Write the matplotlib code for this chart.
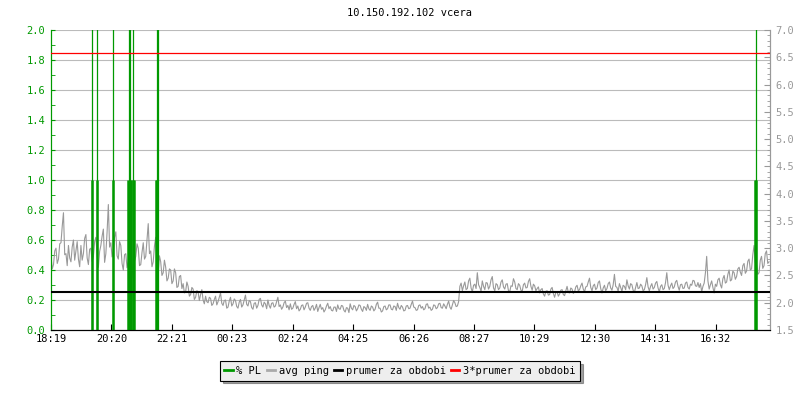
import numpy as np
import matplotlib
matplotlib.use("Agg")
import matplotlib.pyplot as plt
from matplotlib.lines import Line2D

# avg ping, vzorek kazde 2.5 minuty od 18:19 (prava osa)
ping = [
    2.85, 2.62, 2.70, 2.95, 3.00, 2.72, 2.80, 3.08, 3.10, 3.40, 3.65, 2.88,
    2.90, 2.68, 3.05, 2.82, 2.75, 3.02, 3.15, 2.78, 2.95, 3.12, 2.80, 2.66,
    3.05, 2.78, 2.90, 3.18, 3.25, 2.82, 2.70, 2.98, 3.00, 2.76, 2.85, 3.12,
    3.20, 2.88, 2.65, 2.94, 3.05, 3.22, 3.35, 2.74, 2.90, 3.30, 3.80, 3.02,
    3.10, 2.84, 2.95, 3.20, 3.30, 2.86, 2.80, 3.12, 3.05, 2.72, 2.60, 2.88,
    2.90, 2.64, 2.75, 3.02, 3.15, 2.70, 2.45, 2.76, 2.85, 3.08, 3.00, 2.68,
    2.70, 2.92, 3.10, 2.80, 2.85, 3.15, 3.45, 2.90, 2.95, 2.66, 2.75, 3.04,
    3.20, 2.72, 2.55, 2.86, 2.75, 2.50, 2.55, 2.78, 2.65, 2.40, 2.45, 2.62,
    # pokles
    2.60, 2.35, 2.40, 2.62, 2.55, 2.28, 2.30, 2.48, 2.50, 2.26, 2.35, 2.18,
    2.20, 2.38, 2.30, 2.12, 2.15, 2.28, 2.25, 2.06, 2.10, 2.22, 2.20, 2.04,
    2.15, 2.24, 2.05, 1.98, 2.12, 2.02, 2.00, 2.10,
    # noc
    2.08, 1.95, 1.98, 2.06, 2.12, 1.96, 2.02, 2.10, 2.18, 1.99, 1.95, 2.04,
    2.05, 1.90, 1.92, 2.03, 2.10, 1.94, 1.98, 2.07, 2.04, 1.93, 1.90, 2.01,
    2.06, 1.92, 1.96, 2.05, 2.14, 1.97, 1.94, 2.04, 2.02, 1.91, 1.88, 1.99,
    2.00, 1.90, 1.95, 2.06, 2.08, 1.96, 1.92, 2.01, 1.98, 1.89, 2.05, 1.95,
    1.90, 1.99, 2.00, 1.92, 1.94, 2.02, 2.10, 1.93, 1.96, 1.88, 1.92, 2.00,
    2.03, 1.91, 1.95, 1.87,
    1.98, 1.88, 1.90, 1.97, 2.02, 1.89, 1.94, 1.85, 1.88, 1.95, 1.96, 1.87,
    1.92, 1.99, 2.00, 1.90, 1.86, 1.93, 1.95, 1.86, 1.90, 1.97, 1.84, 1.91,
    1.97, 1.88, 1.91, 1.83, 1.87, 1.94, 1.99, 1.89, 1.93, 1.86, 1.85, 1.92,
    1.92, 1.84, 1.96, 1.89,
    1.88, 1.95, 1.94, 1.86, 1.83, 1.91, 1.90, 1.82, 1.98, 1.90, 1.87, 1.95,
    1.93, 1.85, 1.89, 1.96, 1.95, 1.88, 1.84, 1.93, 1.91, 1.86, 1.97, 1.89,
    1.86, 1.94, 1.92, 1.85, 1.88, 1.97, 2.01, 1.90, 1.90, 1.83, 1.85, 1.93,
    1.94, 1.87, 1.89, 1.96,
    1.96, 1.88, 1.87, 1.94, 1.93, 1.86, 1.99, 1.91, 1.88, 1.95, 1.92, 1.85,
    1.86, 1.94, 1.95, 1.89, 1.90, 1.97, 2.03, 1.92, 1.91, 1.86, 1.87, 1.95,
    1.96, 1.90, 1.93, 1.87, 1.89, 1.97, 1.98, 1.90, 1.92, 1.86, 1.88, 1.96,
    1.95, 1.89, 1.91, 1.98,
    1.99, 1.91, 1.90, 1.98, 1.94, 1.89, 1.97, 2.03, 1.92, 1.88, 1.96, 2.04,
    2.00, 1.93, 1.94, 2.02,
    # rano
    2.30, 2.36, 2.22, 2.31, 2.38, 2.24, 2.26, 2.40, 2.45, 2.27, 2.20, 2.32,
    2.34, 2.26, 2.55, 2.33, 2.28, 2.21, 2.40, 2.30, 2.24, 2.37, 2.36, 2.25,
    2.30, 2.42, 2.48, 2.27, 2.22, 2.35, 2.33, 2.24, 2.27, 2.38, 2.42, 2.29,
    2.25, 2.34, 2.35, 2.22, 2.20, 2.31, 2.30, 2.44, 2.38, 2.26, 2.24, 2.35,
    2.32, 2.23, 2.21, 2.33, 2.36, 2.27, 2.28, 2.39, 2.44, 2.30, 2.23, 2.34,
    2.31, 2.22, 2.26, 2.29,
    2.18, 2.24, 2.26, 2.16, 2.12, 2.21, 2.22, 2.14, 2.15, 2.25, 2.28, 2.17,
    2.10, 2.19, 2.20, 2.12, 2.16, 2.23, 2.24, 2.15, 2.13, 2.22, 2.30, 2.19,
    2.18, 2.27, 2.25, 2.17, 2.20, 2.29, 2.32, 2.22,
    2.24, 2.31, 2.36, 2.25, 2.20, 2.29, 2.30, 2.38, 2.45, 2.28, 2.22, 2.31,
    2.34, 2.24, 2.27, 2.37, 2.40, 2.26, 2.18, 2.27, 2.32, 2.22, 2.26, 2.35,
    2.38, 2.27, 2.23, 2.33, 2.52, 2.30, 2.28, 2.21, 2.35, 2.28, 2.21, 2.32,
    2.30, 2.24, 2.42, 2.31,
    2.25, 2.35, 2.33, 2.23, 2.19, 2.28, 2.37, 2.26, 2.27, 2.34, 2.31, 2.22,
    2.24, 2.33, 2.46, 2.29, 2.22, 2.30, 2.35, 2.25, 2.28, 2.36, 2.39, 2.27,
    2.20, 2.30, 2.33, 2.24, 2.26, 2.37, 2.55, 2.32, 2.24, 2.31, 2.36, 2.26,
    2.29, 2.38, 2.41, 2.30,
    2.23, 2.33, 2.34, 2.26, 2.27, 2.36, 2.38, 2.28, 2.25, 2.34, 2.32, 2.41,
    2.40, 2.31, 2.30, 2.37,
    # vecer
    2.28, 2.35, 2.20, 2.30, 2.36, 2.55, 2.85, 2.40, 2.25, 2.33, 2.40, 2.28,
    2.18, 2.34, 2.30, 2.42, 2.45, 2.33, 2.27, 2.44, 2.50, 2.36, 2.38, 2.52,
    2.60, 2.40, 2.42, 2.58, 2.55, 2.43, 2.48, 2.62,
    2.65, 2.56, 2.50, 2.68, 2.72, 2.54, 2.58, 2.76, 2.80, 2.60, 2.62, 2.88,
    3.05, 2.74, 2.70, 2.52, 2.55, 2.78, 2.85, 2.63, 2.68, 2.90, 2.95, 2.72,
    2.75,
]
ping_min = np.arange(len(ping)) * 2.5

# % PL - spicky do 1.0 a spicky mimo graf (minuty od zacatku)
pl1_min = [82, 92, 124, 155, 158, 160, 164, 166, 211, 213, 1412, 1413]
pl1_val = [1, 1, 1, 1, 1, 1, 1, 1, 1, 1, 1, 1]
pl3_min = [83, 93, 125, 156, 159, 165, 212, 215, 1414]
pl3_val = [3, 3, 3, 3, 3, 3, 3, 3, 3]

prumer = 2.195
tick_labels = ["18:19", "20:20", "22:21", "00:23", "02:24", "04:25",
               "06:26", "08:27", "10:29", "12:30", "14:31", "16:32"]
tick_step = 121.2
konec = 1442

zelena = "#009900"
seda = "#999999"
font = "DejaVu Sans Mono"
fs = 7.5

fig = plt.figure(figsize=(8, 4), dpi=100)
ax = fig.add_axes([51 / 800, 70 / 400, 719 / 800, 300 / 400])
ax2 = ax.twinx()

ax.set_xlim(0, konec)
ax.set_ylim(0, 2.0)
ax2.set_ylim(1.5, 7.0)

ax2.plot(ping_min, ping, color=seda, lw=0.8, zorder=1)
ax2.vlines(pl1_min, 0, pl1_val, color=zelena, lw=1.8, transform=ax.transData, zorder=2)
ax2.vlines(pl3_min, 0, pl3_val, color=zelena, lw=0.9, transform=ax.transData, zorder=2)
ax2.axhline(prumer, color="black", lw=1.5, zorder=3)
ax2.axhline(3 * prumer, color="red", lw=0.9, zorder=4)

# osy
ax.set_yticks(np.arange(0, 2.01, 0.2))
ax.set_yticks(np.arange(0, 2.01, 0.1), minor=True)
ax.set_yticklabels(["%.1f" % v for v in np.arange(0, 2.01, 0.2)])
ax.grid(axis="y", color="#bbbbbb", lw=0.8)
ax.tick_params(axis="y", which="both", direction="in", colors=zelena, length=3,
               labelsize=fs, pad=4)
ax2.set_yticks(np.arange(1.5, 7.01, 0.5))
ax2.set_yticks(np.arange(1.5, 7.01, 0.1), minor=True)
ax2.set_yticklabels(["%.1f" % v for v in np.arange(1.5, 7.01, 0.5)])
ax2.tick_params(axis="y", which="major", direction="in", colors=seda, length=4,
                labelsize=fs, pad=4)
ax2.tick_params(axis="y", which="minor", direction="in", colors=seda, length=2)

ax.set_xticks([i * tick_step for i in range(len(tick_labels))])
ax.set_xticklabels(tick_labels)
ax.tick_params(axis="x", direction="in", length=4, labelsize=fs, pad=3)

for a in (ax, ax2):
    a.spines["top"].set_visible(False)
    a.spines["left"].set_color(zelena)
    a.spines["right"].set_color(seda)
    a.spines["bottom"].set_color("black")
for lab in ax.get_xticklabels() + ax.get_yticklabels() + ax2.get_yticklabels():
    lab.set_family(font)

fig.text(410 / 800, 1 - 13 / 400, "10.150.192.102 vcera", ha="center", va="center",
         family=font, fontsize=fs)

handles = [Line2D([], [], color=zelena, lw=2),
           Line2D([], [], color="#aaaaaa", lw=2),
           Line2D([], [], color="black", lw=2),
           Line2D([], [], color="red", lw=2)]
names = ["% PL", "avg ping", "prumer za obdobi", "3*prumer za obdobi"]
leg = fig.legend(handles, names, loc="center", bbox_to_anchor=(400 / 800, 1 - 371 / 400),
                 ncol=4, frameon=True, fancybox=False, shadow=True,
                 handlelength=0.8, handletextpad=0.35, columnspacing=0.5,
                 borderpad=0.45, prop={"family": font, "size": 7.5})
leg.get_frame().set_edgecolor("black")
leg.get_frame().set_facecolor("#eeeeee")
leg.get_frame().set_linewidth(0.8)

fig.savefig("out.png", dpi=100)
